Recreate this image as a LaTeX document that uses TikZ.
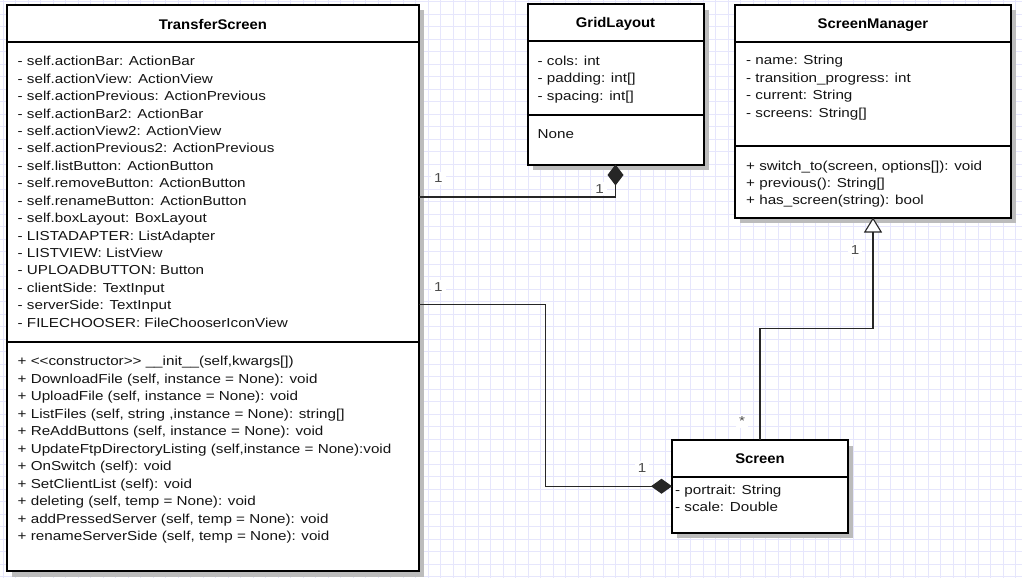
\documentclass[tikz,border=0pt]{standalone}
\usepackage{fontspec}
\setmainfont{Liberation Sans}
\newfontfamily\umlreg{Liberation Sans}[FakeStretch=1.17]
\newfontfamily\umltitle{Liberation Sans}[FakeStretch=1.06]
\usetikzlibrary{arrows.meta,shadows}
\definecolor{gridline}{RGB}{230,230,252}
\definecolor{shadowgray}{RGB}{188,188,188}

\begin{document}
\begin{tikzpicture}[x=1pt,y=-1pt,
  classbox/.style={rectangle, draw=black, line width=2pt, fill=white,
    inner sep=0pt, outer sep=0pt,
    drop shadow={shadow xshift=5pt, shadow yshift=-5.5pt, fill=shadowgray, opacity=1}},
  sepline/.style={line width=2pt, draw=black},
  sepshadow/.style={line width=2pt, draw=shadowgray},
  classtitle/.style={font=\umltitle\bfseries\fontsize{14}{17}\selectfont, anchor=base, inner sep=0pt},
  member/.style={font=\umlreg\fontsize{13}{17}\selectfont, anchor=base west, inner sep=0pt, text=black!92},
  mult/.style={font=\umlreg\fontsize{13}{17}\selectfont, anchor=base, fill=white,
    text=black!70, inner xsep=3pt, inner ysep=2pt},
  conn/.style={draw=black!85, line width=1.1pt},
  gridl/.style={draw=gridline, line width=0.7pt}]

\useasboundingbox (0,0) rectangle (1022,578);
\fill[white] (0,0) rectangle (1022,578);

% background grid
\foreach \k in {0,...,81} \draw[gridl] ({3.3+12.5*\k},0) -- ++(0,578);
\foreach \k in {0,...,46} \draw[gridl] (0,{1.7+12.5*\k}) -- ++(1022,0);

% ---------- class boxes ----------
\node[classbox, minimum width=412pt, minimum height=566pt] (ts) at (213,288) {};
\node[classbox, minimum width=176pt, minimum height=160pt] (gl) at (615.5,84.5) {};
\node[classbox, minimum width=276pt, minimum height=212.5pt] (sm) at (873,111.25) {};
\node[classbox, minimum width=176pt, minimum height=92.5pt] (scr) at (760,486.25) {};

% compartment separators (with their shadow ticks)
\draw[sepshadow] (420,47.5) -- (424,47.5);
\draw[sepshadow] (420,347) -- (424,347);
\draw[sepshadow] (704.5,47.5) -- (708.5,47.5);
\draw[sepshadow] (704.5,120.5) -- (708.5,120.5);
\draw[sepshadow] (1012,47.5) -- (1016,47.5);
\draw[sepshadow] (1012,151.5) -- (1016,151.5);
\draw[sepshadow] (849,482) -- (853,482);

\draw[sepline] ([yshift=-37pt]ts.north west) -- ([yshift=-37pt]ts.north east);
\draw[sepline] ([yshift=-336.5pt]ts.north west) -- ([yshift=-336.5pt]ts.north east);
\draw[sepline] ([yshift=-37pt]gl.north west) -- ([yshift=-37pt]gl.north east);
\draw[sepline] ([yshift=-110pt]gl.north west) -- ([yshift=-110pt]gl.north east);
\draw[sepline] ([yshift=-37pt]sm.north west) -- ([yshift=-37pt]sm.north east);
\draw[sepline] ([yshift=-141pt]sm.north west) -- ([yshift=-141pt]sm.north east);
\draw[sepline] ([yshift=-36.5pt]scr.north west) -- ([yshift=-36.5pt]scr.north east);

% ---------- titles ----------
\node[classtitle] (tsT) at ([yshift=-24.3pt]ts.north) {TransferScreen};
\node[classtitle] (glT) at ([yshift=-23.5pt]gl.north) {GridLayout};
\node[classtitle] (smT) at ([yshift=-23.5pt]sm.north) {ScreenManager};
\node[classtitle] (scrT) at ([yshift=-23.3pt]scr.north) {Screen};

% ---------- TransferScreen members ----------
\foreach \t [count=\i from 0] in {
  - self.actionBar: ActionBar,
  - self.actionView: ActionView,
  - self.actionPrevious: ActionPrevious,
  - self.actionBar2: ActionBar,
  - self.actionView2: ActionView,
  - self.actionPrevious2: ActionPrevious,
  - self.listButton: ActionButton,
  - self.removeButton: ActionButton,
  - self.renameButton: ActionButton,
  - self.boxLayout: BoxLayout,
  - LISTADAPTER: ListAdapter,
  - LISTVIEW: ListView,
  - UPLOADBUTTON: Button,
  - clientSide: TextInput,
  - serverSide: TextInput,
  - FILECHOOSER: FileChooserIconView}
  \node[member] (tsa\i) at (17.5,{65.7+17.44*\i}) {\t};

\foreach \t [count=\i from 0] in {
  {+ <\kern0pt<constructor>\kern0pt> \_\_init\_\_(self,kwargs[])},
  {+ DownloadFile (self, instance = None): void},
  {+ UploadFile (self, instance = None): void},
  {+ ListFiles (self, string ,instance = None): string[]},
  {+ ReAddButtons (self, instance = None): void},
  {+ UpdateFtpDirectoryListing (self,instance = None):void},
  {+ OnSwitch (self): void},
  {+ SetClientList (self): void},
  {+ deleting (self, temp = None): void},
  {+ addPressedServer (self, temp = None): void},
  {+ renameServerSide (self, temp = None): void}}
  \node[member] (tsm\i) at (17.5,{365.7+17.5*\i}) {\t};

% ---------- GridLayout members ----------
\foreach \t [count=\i from 0] in {- cols: int, - padding: int[], - spacing: int[]}
  \node[member] (gla\i) at (537.5,{65.3+17.35*\i}) {\t};
\node[member] (glm0) at (537.5,138.3) {None};

% ---------- ScreenManager members ----------
\foreach \t [count=\i from 0] in {- name: String, - transition\_progress: int, - current: String, - screens: String[]}
  \node[member] (sma\i) at (746,{65+17.45*\i}) {\t};
\foreach \t [count=\i from 0] in {{+ switch\_to(screen, options[]): void}, {+ previous(): String[]}, {+ has\_screen(string): bool}}
  \node[member] (smm\i) at (746,{170+17.3*\i}) {\t};

% ---------- Screen members ----------
\foreach \t [count=\i from 0] in {- portrait: String, - scale: Double}
  \node[member] (scra\i) at (675,{494+17*\i}) {\t};

% ---------- relations ----------
% GridLayout is composed into TransferScreen
\draw[conn, -{Diamond[length=21pt,width=16pt]}] ([yshift=91pt]ts.east) -| (gl.south);
% Screen is composed into TransferScreen
\draw[conn, -{Diamond[length=21pt,width=15pt]}] ([yshift=-16.3pt]ts.east) -- ++(126.7,0) |- (scr.west);
% Screen generalises to ScreenManager
\draw[conn, -{Triangle[length=15pt,width=18pt,fill=white]}] (scr.north) -- ++(0,-111.7) -| (sm.south);

% multiplicities
\node[mult] (m1) at (438.3,182.7) {1};
\node[mult] (m2) at (599.5,193) {1};
\node[mult] (m3) at (438.3,291.3) {1};
\node[mult] (m4) at (642,472.3) {1};
\node[mult] (m5) at (855,254.6) {1};
\node[mult] (m6) at (742,425.5) {*};

\end{tikzpicture}
\end{document}
